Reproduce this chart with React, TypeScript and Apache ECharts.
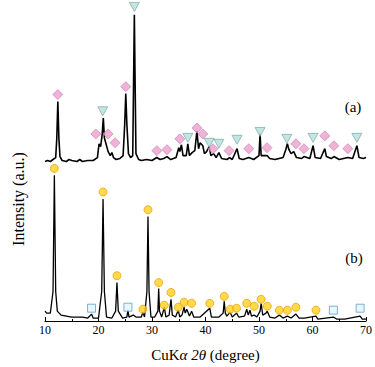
import React, { useEffect, useRef } from "react";
import * as echarts from "echarts";

// 2θ (degree), intensity (a.u., stacked display values)
const traceA: [number, number][] = [
  [10.0, 162], [10.5, 163], [11.0, 162], [11.5, 164], [12.0, 166], [12.2, 185], [12.4, 223], [12.6, 185], [12.8, 167],
  [13.2, 163], [14.0, 162], [14.5, 164], [15.0, 163], [16.0, 162], [16.5, 164], [17.0, 162], [18.0, 163], [19.0, 163],
  [19.8, 166], [20.1, 180], [20.4, 177], [20.7, 190], [20.9, 206], [21.1, 186], [21.4, 180], [21.8, 172], [22.2, 168],
  [22.5, 171], [22.8, 166], [23.3, 164], [24.0, 165], [24.6, 168], [24.9, 200], [25.1, 231], [25.3, 200], [25.6, 170],
  [26.0, 166], [26.4, 168], [26.55, 240], [26.7, 311], [26.85, 240], [27.0, 170], [27.5, 164], [28.0, 163], [29.0, 164],
  [30.0, 163], [30.9, 166], [31.5, 164], [32.2, 165], [32.8, 167], [33.5, 164], [34.5, 166], [35.0, 176], [35.2, 172],
  [35.5, 179], [35.8, 168], [36.4, 168], [36.7, 180], [37.0, 168], [37.5, 171], [38.0, 173], [38.4, 193], [38.7, 175],
  [39.0, 181], [39.5, 178], [39.8, 170], [40.2, 172], [40.7, 177], [41.0, 168], [41.5, 170], [42.0, 166], [42.5, 171],
  [43.0, 165], [44.0, 164], [44.5, 166], [45.0, 164], [45.9, 175], [46.3, 165], [47.0, 164], [48.1, 166], [49.0, 164],
  [50.0, 168], [50.2, 190], [50.4, 168], [51.5, 168], [52.0, 165], [53.0, 164], [54.5, 166], [55.0, 174], [55.3, 180],
  [55.6, 174], [56.0, 170], [56.5, 172], [57.0, 166], [58.0, 165], [58.4, 167], [59.5, 165], [60.1, 178], [60.5, 166],
  [61.5, 165], [62.3, 175], [62.6, 167], [63.5, 165], [64.0, 167], [65.0, 164], [66.6, 166], [67.5, 165], [68.3, 178],
  [68.7, 166], [69.5, 165], [70.0, 166],
];

const traceB: [number, number][] = [
  [10.0, 10], [10.3, 8], [11.0, 8], [11.5, 30], [11.75, 148], [12.0, 30], [12.3, 10], [13.0, 6], [14.0, 5], [15.0, 4],
  [16.0, 4], [17.0, 4], [18.0, 3], [18.7, 7], [19.0, 3], [20.0, 3], [20.6, 30], [20.85, 124], [21.1, 30], [21.5, 4],
  [22.5, 3], [23.2, 10], [23.45, 39], [23.7, 10], [24.5, 3], [25.3, 4], [25.5, 11], [25.7, 4], [26.5, 6], [27.0, 4],
  [28.0, 4], [28.3, 9], [28.6, 4], [29.05, 30], [29.25, 106], [29.45, 30], [29.8, 4], [30.5, 4], [31.1, 10],
  [31.25, 33], [31.4, 10], [31.8, 4], [32.3, 14], [32.6, 4], [33.2, 6], [33.55, 22], [33.8, 6], [34.4, 4], [34.9, 11],
  [35.2, 4], [35.6, 6], [36.0, 14], [36.2, 8], [36.5, 12], [37.0, 5], [37.4, 10], [37.8, 4], [39.0, 4], [40.8, 13],
  [41.1, 4], [42.5, 4], [43.3, 8], [43.5, 20], [43.7, 8], [44.0, 5], [44.6, 9], [45.0, 4], [45.8, 8], [46.2, 4],
  [47.3, 5], [47.7, 12], [48.0, 6], [48.3, 11], [48.6, 5], [49.1, 6], [49.6, 4], [50.2, 10], [50.4, 18], [50.7, 6],
  [51.3, 8], [51.55, 10], [52.0, 4], [53.0, 3], [53.8, 6], [54.5, 3], [55.3, 5], [56.0, 3], [56.9, 7], [57.5, 3],
  [58.5, 3], [60.65, 5], [61.0, 2], [63.9, 4], [64.5, 2], [66.0, 2], [68.9, 5], [69.3, 2], [70.0, 2],
];

// phase markers: [2θ, marker height]
const diamondsA: [number, number][] = [
  [12.4, 230], [19.5, 190], [21.8, 190], [23.1, 181], [25.1, 238], [30.9, 173], [32.8, 174], [35.2, 185], [38.4, 196],
  [39.5, 190], [41.4, 175], [44.4, 173], [48.1, 175], [51.5, 176], [56.9, 180], [58.4, 175], [62.3, 188], [64.0, 178],
  [66.6, 175],
];
const trianglesA: [number, number][] = [
  [20.8, 213], [26.7, 319], [36.7, 186], [40.7, 181], [42.5, 180], [45.9, 184], [50.2, 192], [55.2, 185], [60.1, 186],
  [68.3, 186],
];
const circlesB: [number, number][] = [
  [11.75, 155], [20.85, 131], [23.45, 46], [29.25, 113], [28.3, 12], [31.25, 39], [32.3, 16], [33.55, 29], [34.9, 14],
  [36.0, 19], [37.4, 18], [40.8, 18], [43.5, 25], [44.6, 12], [45.8, 13], [47.7, 18], [49.1, 15], [50.4, 22],
  [51.55, 15], [53.8, 11], [55.3, 11], [56.9, 14], [60.65, 11],
];
const squaresB: [number, number][] = [
  [18.7, 13], [25.5, 14], [63.9, 11], [68.9, 13],
];

const xTicks = [10, 20, 30, 40, 50, 60, 70];

const SERIF = "'Liberation Serif', 'Times New Roman', serif";

export default function App() {
  const ref = useRef<HTMLDivElement>(null);
  useEffect(() => {
    if (!ref.current) return;
    const chart = echarts.init(ref.current, undefined, { renderer: "svg" });
    chart.setOption({
      animation: false,
      backgroundColor: "#ffffff",
      grid: { left: 45, right: 9, top: 0, bottom: 41 },
      xAxis: {
        type: "value",
        min: xTicks[0],
        max: xTicks[xTicks.length - 1],
        interval: 10,
        splitLine: { show: false },
        axisLine: { onZero: false, lineStyle: { color: "#000", width: 1 } },
        axisTick: { inside: true, length: 4, lineStyle: { color: "#000" } },
        minorTick: { show: true, splitNumber: 2, length: 2, lineStyle: { color: "#000" } },
        axisLabel: { color: "#000", fontFamily: SERIF, fontSize: 12, margin: 3 },
        name: "CuK{i|α 2θ} (degree)",
        nameLocation: "middle",
        nameGap: 26,
        nameTextStyle: {
          color: "#000",
          fontFamily: SERIF,
          fontSize: 15,
          rich: { i: { fontStyle: "italic", fontFamily: SERIF, fontSize: 15, color: "#000" } },
        },
      },
      yAxis: { type: "value", min: 0, max: 326, show: false },
      graphic: [
        {
          type: "text",
          x: 18,
          y: 199,
          rotation: Math.PI / 2,
          style: {
            text: "Intensity (a.u.)",
            font: `16px ${SERIF}`,
            fill: "#000",
            align: "center",
            verticalAlign: "middle",
          },
        },
        {
          type: "text",
          x: 353,
          y: 107,
          style: { text: "(a)", font: `15px ${SERIF}`, fill: "#000", align: "center", verticalAlign: "middle" },
        },
        {
          type: "text",
          x: 354,
          y: 258,
          style: { text: "(b)", font: `15px ${SERIF}`, fill: "#000", align: "center", verticalAlign: "middle" },
        },
      ],
      series: [
        {
          type: "line",
          data: traceA,
          showSymbol: false,
          lineStyle: { color: "#000", width: 1.6 },
          z: 2,
        },
        {
          type: "line",
          data: traceB,
          showSymbol: false,
          lineStyle: { color: "#000", width: 1.3 },
          z: 2,
        },
        {
          type: "scatter",
          data: diamondsA,
          symbol: "diamond",
          symbolSize: [10, 10],
          itemStyle: { color: "#ec9fcf", borderColor: "#c47aa8", borderWidth: 0.8 },
          z: 3,
        },
        {
          type: "scatter",
          data: trianglesA,
          symbol: "triangle",
          symbolRotate: 180,
          symbolSize: [10, 9],
          itemStyle: { color: "#b4e0dc", borderColor: "#6f9f9c", borderWidth: 0.8 },
          z: 3,
        },
        {
          type: "scatter",
          data: circlesB,
          symbol: "circle",
          symbolSize: 8,
          itemStyle: { color: "#ffd21a", borderColor: "#f0a010", borderWidth: 1 },
          z: 3,
        },
        {
          type: "scatter",
          data: squaresB,
          symbol: "rect",
          symbolSize: 8,
          itemStyle: { color: "#e6f3fb", borderColor: "#5aa0d6", borderWidth: 1 },
          z: 3,
        },
      ],
    });
    return () => chart.dispose();
  }, []);
  return (
    <div
      ref={ref}
      style={{ position: "absolute", left: 0, top: 0, width: 375, height: 367 }}
    />
  );
}
